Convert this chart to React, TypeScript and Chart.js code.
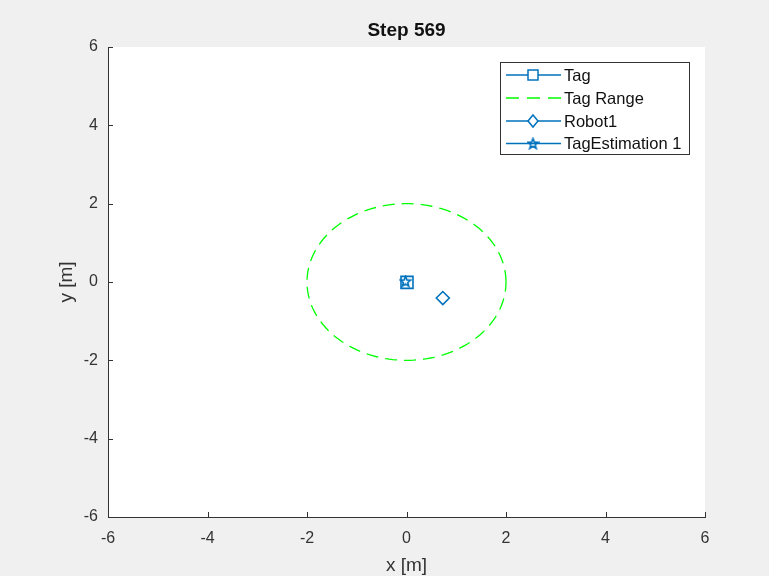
import React, { useEffect, useRef } from "react";
import { Chart, registerables } from "chart.js";
Chart.register(...registerables);

// ---- data ----
const titleText = "Step 569";
const xAxisLabel = "x [m]";
const yAxisLabel = "y [m]";
const axisMin = -6;
const axisMax = 6;
const axisStep = 2;
const tagX = [0.01];
const tagY = [-0.01];
const robotX = [0.73];
const robotY = [-0.41];
const estX = [-0.02];
const estY = [0.02];
const rangeCenter = [0, 0];
const rangeRadius = 2;
const legendLabels = ["Tag", "Tag Range", "Robot1", "TagEstimation 1"];

const BLUE = "#0072BD";
const GREEN = "#00FF00";
const AXIS = "#333333";
const FONT = "'Liberation Sans', Arial, Helvetica, sans-serif";
const DASH = [12, 7];

function makeStar(size: number, color: string): HTMLCanvasElement {
  const c = document.createElement("canvas");
  c.width = size;
  c.height = size;
  const ctx = c.getContext("2d")!;
  const cx = size / 2;
  const cy = size / 2 + 0.5;
  const R = size / 2 - 1;
  const r = R * 0.42;
  ctx.beginPath();
  for (let i = 0; i < 10; i++) {
    const ang = -Math.PI / 2 + (i * Math.PI) / 5;
    const rad = i % 2 === 0 ? R : r;
    const px = cx + rad * Math.cos(ang);
    const py = cy + rad * Math.sin(ang);
    if (i === 0) ctx.moveTo(px, py);
    else ctx.lineTo(px, py);
  }
  ctx.closePath();
  ctx.strokeStyle = color;
  ctx.lineWidth = 1.6;
  ctx.stroke();
  return c;
}

function circlePoints(cx: number, cy: number, r: number) {
  const pts: { x: number; y: number }[] = [];
  const n = 180;
  for (let i = 0; i <= n; i++) {
    const t = (i / n) * Math.PI * 2;
    pts.push({ x: cx + r * Math.cos(t), y: cy + r * Math.sin(t) });
  }
  return pts;
}

function drawMarker(ctx: CanvasRenderingContext2D, kind: string, x: number, y: number, star: HTMLCanvasElement) {
  ctx.save();
  ctx.strokeStyle = BLUE;
  ctx.lineWidth = 1.5;
  ctx.setLineDash([]);
  if (kind === "square") {
    ctx.fillStyle = "#fff";
    ctx.fillRect(x - 5, y - 5, 10, 10);
    ctx.strokeRect(x - 5, y - 5, 10, 10);
  } else if (kind === "diamond") {
    ctx.fillStyle = "#fff";
    ctx.beginPath();
    ctx.moveTo(x, y - 6);
    ctx.lineTo(x + 5, y);
    ctx.lineTo(x, y + 6);
    ctx.lineTo(x - 5, y);
    ctx.closePath();
    ctx.fill();
    ctx.stroke();
  } else if (kind === "star") {
    ctx.drawImage(star, x - star.width / 2, y - star.height / 2);
  }
  ctx.restore();
}

export default function App() {
  const ref = useRef<HTMLCanvasElement | null>(null);

  useEffect(() => {
    const canvas = ref.current;
    if (!canvas) return;
    const star = makeStar(13, BLUE);
    const squareSize = 12;

    const decor = {
      id: "matlabDecor",
      beforeDraw(chart: any) {
        const { ctx, chartArea } = chart;
        ctx.save();
        ctx.fillStyle = "#f0f0f0";
        ctx.fillRect(0, 0, chart.width, chart.height);
        ctx.fillStyle = "#ffffff";
        ctx.fillRect(chartArea.left, chartArea.top, chartArea.right - chartArea.left, chartArea.bottom - chartArea.top);
        ctx.restore();
      },
      afterDraw(chart: any) {
        const { ctx, chartArea } = chart;
        const xs = chart.scales.x;
        const ys = chart.scales.y;
        ctx.save();
        // inward ticks
        ctx.strokeStyle = AXIS;
        ctx.lineWidth = 1;
        ctx.beginPath();
        for (let v = axisMin; v <= axisMax; v += axisStep) {
          const px = Math.round(xs.getPixelForValue(v)) + 0.5;
          ctx.moveTo(px, chartArea.bottom);
          ctx.lineTo(px, chartArea.bottom - 5);
          const py = Math.round(ys.getPixelForValue(v)) + 0.5;
          ctx.moveTo(chartArea.left, py);
          ctx.lineTo(chartArea.left + 5, py);
        }
        ctx.stroke();

        // title
        ctx.fillStyle = "#111";
        ctx.font = `bold 19px ${FONT}`;
        ctx.textAlign = "center";
        ctx.textBaseline = "middle";
        ctx.fillText(titleText, (chartArea.left + chartArea.right) / 2, 31);

        // axis labels
        ctx.fillStyle = AXIS;
        ctx.font = `19px ${FONT}`;
        ctx.fillText(xAxisLabel, (chartArea.left + chartArea.right) / 2, 566);
        ctx.save();
        ctx.translate(67, (chartArea.top + chartArea.bottom) / 2);
        ctx.rotate(-Math.PI / 2);
        ctx.fillText(yAxisLabel, 0, 0);
        ctx.restore();

        // legend
        const lx = 500.5, ly = 62.5, lw = 189, lh = 92;
        ctx.fillStyle = "#fff";
        ctx.fillRect(lx, ly, lw, lh);
        ctx.strokeStyle = AXIS;
        ctx.lineWidth = 1;
        ctx.strokeRect(lx, ly, lw, lh);
        const rows = [75, 98, 121, 143.5];
        const kinds = ["square", "dash", "diamond", "star"];
        ctx.font = `16.5px ${FONT}`;
        ctx.textAlign = "left";
        ctx.textBaseline = "middle";
        rows.forEach((ry, i) => {
          ctx.save();
          ctx.lineWidth = 1.3;
          if (kinds[i] === "dash") {
            ctx.strokeStyle = GREEN;
            ctx.setLineDash([13, 8]);
          } else {
            ctx.strokeStyle = BLUE;
            ctx.setLineDash([]);
          }
          ctx.beginPath();
          ctx.moveTo(506, ry);
          ctx.lineTo(561, ry);
          ctx.stroke();
          ctx.restore();
          if (kinds[i] !== "dash") drawMarker(ctx, kinds[i], 533, ry, star);
          ctx.fillStyle = "#111";
          ctx.fillText(legendLabels[i], 564, ry + 1);
        });
        ctx.restore();
      },
    };

    const chart = new Chart(canvas, {
      type: "scatter",
      data: {
        datasets: [
          {
            label: legendLabels[1],
            data: circlePoints(rangeCenter[0], rangeCenter[1], rangeRadius),
            showLine: true,
            borderColor: GREEN,
            borderWidth: 1.3,
            borderDash: DASH,
            pointRadius: 0,
            fill: false,
          } as any,
          {
            label: legendLabels[0],
            data: tagX.map((x, i) => ({ x, y: tagY[i] })),
            pointStyle: "rect",
            pointRadius: squareSize / 2 / Math.SQRT1_2,
            borderColor: BLUE,
            backgroundColor: "rgba(0,0,0,0)",
            borderWidth: 1.6,
          },
          {
            label: legendLabels[3],
            data: estX.map((x, i) => ({ x, y: estY[i] })),
            pointStyle: star as any,
            pointRadius: 6,
            borderColor: BLUE,
            backgroundColor: "rgba(0,0,0,0)",
          },
          {
            label: legendLabels[2],
            data: robotX.map((x, i) => ({ x, y: robotY[i] })),
            pointStyle: "rectRot",
            pointRadius: 6.5,
            borderColor: BLUE,
            backgroundColor: "rgba(0,0,0,0)",
            borderWidth: 1.6,
          },
        ],
      },
      options: {
        responsive: false,
        animation: false,
        layout: { padding: { top: 47, right: 64, left: 0, bottom: 0 } },
        plugins: {
          legend: { display: false },
          title: { display: false },
          tooltip: { enabled: false },
        },
        scales: {
          x: {
            type: "linear",
            min: axisMin,
            max: axisMax,
            grid: { display: false, drawTicks: false },
            border: { display: true, color: AXIS, width: 1 },
            ticks: {
              stepSize: axisStep,
              color: AXIS,
              padding: 12,
              font: { family: FONT, size: 16 },
              maxRotation: 0,
            },
            afterFit(scale: any) {
              scale.height = 59;
            },
          },
          y: {
            type: "linear",
            min: axisMin,
            max: axisMax,
            grid: { display: false, drawTicks: false },
            border: { display: true, color: AXIS, width: 1 },
            ticks: {
              stepSize: axisStep,
              color: AXIS,
              padding: 10,
              font: { family: FONT, size: 16 },
            },
            afterFit(scale: any) {
              scale.width = 108;
            },
          },
        },
      },
      plugins: [decor],
    });
    return () => chart.destroy();
  }, []);

  return (
    <div style={{ position: "fixed", left: 0, top: 0, width: 769, height: 576, background: "#f0f0f0" }}>
      <canvas ref={ref} width={769} height={576} style={{ display: "block" }} />
    </div>
  );
}
